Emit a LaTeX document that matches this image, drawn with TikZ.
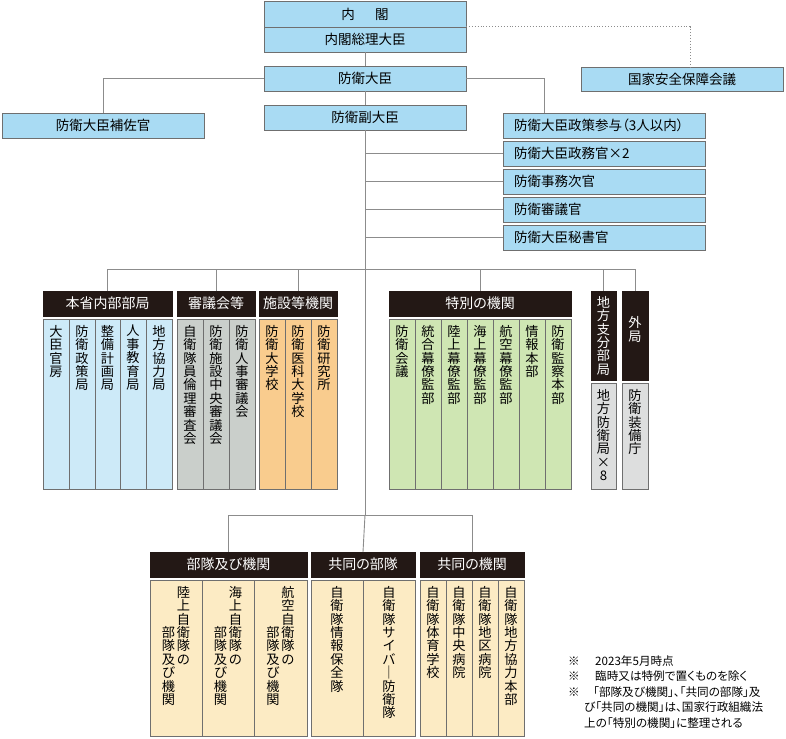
\documentclass[tikz,border=0pt]{standalone}
\usepackage{fontspec}
\setmainfont{Noto Sans CJK JP}[RawFeature=+palt]
\usetikzlibrary{calc}
\definecolor{topblue}{HTML}{A9DBF3}
\definecolor{cblue}{HTML}{CDEAF8}
\definecolor{cgray}{HTML}{CACFCB}
\definecolor{corange}{HTML}{F9CC8E}
\definecolor{cgreen}{HTML}{CFE6B3}
\definecolor{cyellow}{HTML}{FCEBC4}
\definecolor{clgray}{HTML}{DDDEDE}
\definecolor{hdrblack}{HTML}{231815}
\definecolor{bordergray}{HTML}{6F6F6F}
\definecolor{linegray}{HTML}{8C8C8C}
\makeatletter
\newcommand\vs[1]{\vtop{\baselineskip=13.4pt\lineskiplimit=-20pt\@tfor\vs@c:=#1\do{\hbox to 14pt{\hss\vs@c\hss}}}}
\makeatother
\newcommand\twocol[2]{\hbox{\lower40.2pt\hbox{\vs{#2}}\kern1pt\vs{#1}}}
\tikzset{
 boxbase/.style={draw=bordergray, line width=0.8pt, inner sep=0pt, outer sep=0pt},
 topbox/.style={boxbase, fill=topblue, font=\fontsize{13.5}{13.5}\selectfont},
 hdr/.style={fill=hdrblack, draw=hdrblack, line width=0.8pt, inner sep=0pt, outer sep=0pt, text=white, font=\fontsize{14}{14}\selectfont},
 colb/.style={boxbase},
 vtext/.style={inner sep=0pt, anchor=north, font=\fontsize{13.2}{13.4}\selectfont},
 conn/.style={draw=linegray, line width=0.9pt},
 notetext/.style={anchor=west, inner sep=0pt, font=\fontsize{11.6}{12}\selectfont},
}
\newcommand\rbox[7]{\node[#1, minimum width={(#5-#3)*1pt}, minimum height={(#6-#4)*1pt}, anchor=north west] (#2) at (#3,#4) {#7};}
\newcommand\cbox[7]{\node[colb, fill=#6, minimum width={(#4-#2)*1pt}, minimum height={(#5-#3)*1pt}, anchor=north west] (#1) at (#2,#3) {};
 \node[vtext] (#1t) at ([yshift=-6pt]#1.north) {#7};}
\begin{document}
\begin{tikzpicture}[x=1pt,y=-1pt]
\useasboundingbox (0,0) rectangle (786,738);
% top
\rbox{topbox}{cab}{264}{1}{466}{27}{内\hspace{1.5em}閣}
\rbox{topbox}{pm}{264}{27}{466}{52}{内閣総理大臣}
\rbox{topbox}{nsc}{581}{67}{783}{91}{国家安全保障会議}
\rbox{topbox}{min}{264}{66}{466}{91}{防衛大臣}
\rbox{topbox}{hosa}{2}{113}{204}{138}{防衛大臣補佐官}
\rbox{topbox}{fuku}{264}{105}{466}{130}{防衛副大臣}
\rbox{topbox}{sanyo}{503}{113}{705}{138}{}
\rbox{topbox}{seimu}{503}{141}{705}{166}{}
\rbox{topbox}{jimu}{503}{169}{705}{194}{}
\rbox{topbox}{shingi}{503}{197}{705}{222}{}
\rbox{topbox}{hisho}{503}{225}{705}{250}{}
\foreach \n/\t in {sanyo/{防衛大臣政策参与（3人以内）},seimu/{防衛大臣政務官×2},jimu/{防衛事務次官},shingi/{防衛審議官},hisho/{防衛大臣秘書官}}
 \node[anchor=west, inner sep=0pt, font=\fontsize{13.5}{13.5}\selectfont] (\n t) at ([xshift=11pt]\n.west) {\t};
% connectors top
\draw[conn] (pm.south) -- (min.north);
\coordinate (dotend) at ($(nsc.north)+(8,0)$);
\draw[conn, dotted, line width=1pt] (cab.south east) -| (dotend);
\draw[conn] (min.west) -| (hosa.north);
\coordinate (sanyotop) at ($(sanyo.north)+(-60,0)$);
\draw[conn] (min.east) -| (sanyotop);
\draw[conn] (min.south) -- (fuku.north);
\coordinate (trunk) at (365,515);
\draw[conn] (fuku.south) -- (trunk);
\foreach \n in {seimu,jimu,shingi,hisho} \draw[conn] (fuku.south |- \n.west) -- (\n.west);
% headers middle
\rbox{hdr}{h1}{43}{291}{172}{316}{本省内部部局}
\rbox{hdr}{h2}{177}{291}{255}{316}{審議会等}
\rbox{hdr}{h3}{259}{291}{337}{316}{施設等機関}
\rbox{hdr}{h4}{389}{291}{571}{316}{特別の機関}
\rbox{hdr}{h5}{591}{291}{616}{380}{}
\node[vtext, text=white] (h5t) at ([yshift=-5pt]h5.north) {\vs{地方支分部局}};
\rbox{hdr}{h6}{622}{291}{648}{380}{}
\node[vtext, text=white, anchor=center] (h6t) at ([yshift=6pt]h6.center) {\vs{外局}};
% middle bus
\coordinate (busL) at (h1.north |- 0,269);
\coordinate (busR) at (h6.north |- 0,269);
\draw[conn] (h1.north) -- (busL) -- (busR) -- (h6.north);
\foreach \h in {h2,h3,h4,h5} \draw[conn] (\h.north |- busL) -- (\h.north);
% columns
\cbox{a1}{43}{319}{69}{489}{cblue}{\vs{大臣官房}}
\cbox{a2}{69}{319}{95}{489}{cblue}{\vs{防衛政策局}}
\cbox{a3}{95}{319}{120}{489}{cblue}{\vs{整備計画局}}
\cbox{a4}{120}{319}{146}{489}{cblue}{\vs{人事教育局}}
\cbox{a5}{146}{319}{172}{489}{cblue}{\vs{地方協力局}}
\cbox{b1}{177}{319}{203}{489}{cgray}{\vs{自衛隊員倫理審査会}}
\cbox{b2}{203}{319}{229}{489}{cgray}{\vs{防衛施設中央審議会}}
\cbox{b3}{229}{319}{255}{489}{cgray}{\vs{防衛人事審議会}}
\cbox{c1}{259}{319}{285}{489}{corange}{\vs{防衛大学校}}
\cbox{c2}{285}{319}{311}{489}{corange}{\vs{防衛医科大学校}}
\cbox{c3}{311}{319}{337}{489}{corange}{\vs{防衛研究所}}
\cbox{d1}{389}{319}{415}{489}{cgreen}{\vs{防衛会議}}
\cbox{d2}{415}{319}{441}{489}{cgreen}{\vs{統合幕僚監部}}
\cbox{d3}{441}{319}{467}{489}{cgreen}{\vs{陸上幕僚監部}}
\cbox{d4}{467}{319}{493}{489}{cgreen}{\vs{海上幕僚監部}}
\cbox{d5}{493}{319}{519}{489}{cgreen}{\vs{航空幕僚監部}}
\cbox{d6}{519}{319}{545}{489}{cgreen}{\vs{情報本部}}
\cbox{d7}{545}{319}{571}{489}{cgreen}{\vs{防衛監察本部}}
\cbox{e1}{591}{383}{616}{489}{clgray}{\vs{地方防衛局×8}}
\cbox{f1}{622}{383}{648}{489}{clgray}{\vs{防衛装備庁}}
% bottom headers
\rbox{hdr}{g1}{150}{552}{307}{577}{部隊及び機関}
\rbox{hdr}{g2}{311}{552}{415}{577}{共同の部隊}
\rbox{hdr}{g3}{420}{552}{524}{577}{共同の機関}
\coordinate (bbL) at (g1.north |- trunk);
\coordinate (bbR) at (g3.north |- trunk);
\draw[conn] (g1.north) -- (bbL) -- (bbR) -- (g3.north);
\draw[conn] (trunk) -- (g2.north);
% bottom columns
\cbox{k1}{150}{580}{202}{736}{cyellow}{\twocol{陸上自衛隊の}{部隊及び機関}}
\cbox{k2}{202}{580}{254}{736}{cyellow}{\twocol{海上自衛隊の}{部隊及び機関}}
\cbox{k3}{254}{580}{307}{736}{cyellow}{\twocol{航空自衛隊の}{部隊及び機関}}
\cbox{m1}{311}{580}{363}{736}{cyellow}{\vs{自衛隊情報保全隊}}
\cbox{m2}{363}{580}{415}{736}{cyellow}{\vs{自衛隊サイバ｜防衛隊}}
\cbox{n1}{420}{580}{446}{736}{cyellow}{\vs{自衛隊体育学校}}
\cbox{n2}{446}{580}{472}{736}{cyellow}{\vs{自衛隊中央病院}}
\cbox{n3}{472}{580}{498}{736}{cyellow}{\vs{自衛隊地区病院}}
\cbox{n4}{498}{580}{524}{736}{cyellow}{\vs{自衛隊地方協力本部}}
% notes
\node[notetext] (s1) at (568,661) {※};
\node[notetext] (t1) at (595,661) {2023年5月時点};
\node[notetext] (s2) at (568,676) {※};
\node[notetext] (t2) at (595,676) {臨時又は特例で置くものを除く};
\node[notetext] (s3) at (568,692) {※};
\node[notetext] (t3) at (593,692) {「部隊及び機関」、「共同の部隊」及};
\node[notetext] (t4) at (584,707) {び「共同の機関」は、国家行政組織法};
\node[notetext] (t5) at (584,723) {上の「特別の機関」に整理される};
\end{tikzpicture}
\end{document}
